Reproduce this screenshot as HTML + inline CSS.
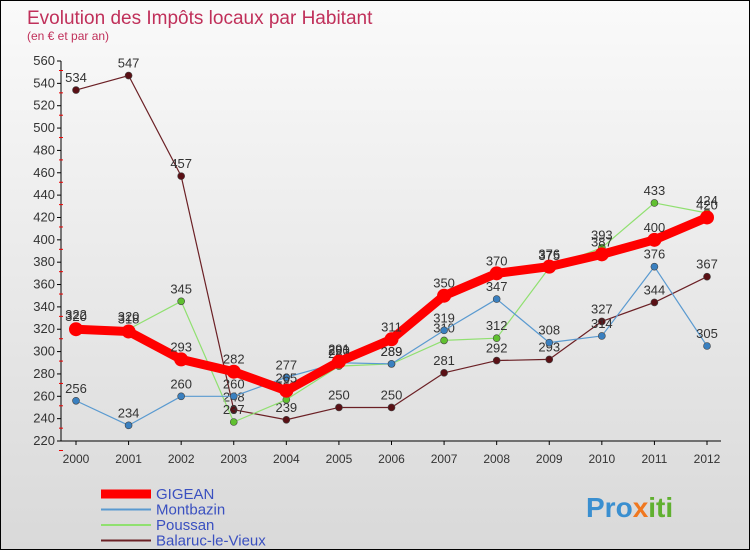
<!DOCTYPE html>
<html><head><meta charset="utf-8"><style>
body{margin:0;width:750px;height:550px;overflow:hidden;font-family:"Liberation Sans",sans-serif}
#wrap{position:relative;width:748px;height:548px;border:1px solid #000;background:linear-gradient(#fafafa,#d9d9d9)}
</style></head><body>
<div id="wrap">
<svg id="chart" width="748" height="548" style="font-family:'Liberation Sans',sans-serif">
<text x="26" y="23" font-size="19" fill="#c0305a">Evolution des Impôts locaux par Habitant</text>
<text x="26" y="39" font-size="12" fill="#c0305a">(en € et par an)</text>
<g id="axes"></g><g id="series"></g><g id="legend"></g>
<text x="585" y="516" font-size="28" font-weight="bold" fill="#3a8fd0">Pro<tspan fill="#f07820">x</tspan><tspan fill="#60b030">iti</tspan></text>
</svg></div>
<script>
const years=[2000,2001,2002,2003,2004,2005,2006,2007,2008,2009,2010,2011,2012];
const yTicks=[220,240,260,280,300,320,340,360,380,400,420,440,460,480,500,520,540,560];
const gigean=[320,318,293,282,265,291,311,350,370,376,387,400,420];
const montbazin=[256,234,260,260,277,290,289,319,347,308,314,376,305];
const poussan=[322,320,345,237,257,287,289,310,312,375,393,433,424];
const balaruc=[534,547,457,248,239,250,250,281,292,293,327,344,367];
const seriesNames=["GIGEAN","Montbazin","Poussan","Balaruc-le-Vieux"];
const NS="http://www.w3.org/2000/svg";
const xS=i=>75+i*(706-75)/(years.length-1);
const yS=v=>60+(560-v)*(440-60)/(560-220);
function mk(t,a,p){const e=document.createElementNS(NS,t);for(const k in a)e.setAttribute(k,a[k]);p.appendChild(e);return e;}
const ax=document.getElementById('axes');
const yAxis=mk('line',{x1:60,y1:60,x2:60,y2:440,stroke:'#000'},ax);


const xAxis=mk('line',{x1:60,y1:440,x2:720,y2:440,stroke:'#000'},ax);


yTicks.forEach(v=>{const y=yS(v);mk('line',{x1:56,y1:y,x2:60,y2:y,stroke:'#000'},ax);
 mk('line',{x1:58,y1:y+9.5,x2:62,y2:y+9.5,stroke:'#e00'},ax);
 const t=mk('text',{x:54,y:y+4,'font-size':13,'text-anchor':'end',fill:'#333'},ax);t.textContent=v;
 
 });
years.forEach((yr,i)=>{const x=xS(i);mk('line',{x1:x,y1:440,x2:x,y2:444,stroke:'#000'},ax);
 const t=mk('text',{x:x,y:462,'font-size':12,'text-anchor':'middle',fill:'#333'},ax);t.textContent=yr;
 
 });
const sg=document.getElementById('series');
const defs=[[balaruc,'#6b2025','#5a1015',1.2,3.5],[poussan,'#90e070','#60c030',1.2,3.5],[montbazin,'#5a9ad0','#3a80c0',1.2,3.5],[gigean,'#ff0000','#ff0000',9,7]];
defs.forEach((d,si)=>{const [vals,c,fc,w,r]=d;const g=mk('g',{},sg);
 
 
 mk('polyline',{points:vals.map((v,i)=>xS(i)+','+yS(v)).join(' '),fill:'none',stroke:c,'stroke-width':w,'stroke-linejoin':'round'},g);
 vals.forEach((v,i)=>{const p=mk('circle',{cx:xS(i),cy:yS(v),r:r,fill:fc,stroke:'#444','stroke-width':si==3?0:0.6},g);
  
  
  const t=mk('text',{x:xS(i),y:yS(v)-8,'font-size':13,'text-anchor':'middle',fill:'#333'},g);t.textContent=v;
  
  });});
const lg=document.getElementById('legend');
const lc=['#ff0000','#5a9ad0','#90e070','#6b2025'],lw=[9,2,2,2];
seriesNames.forEach((n,i)=>{const y=493+i*15.5;const g=mk('g',{},lg);
 
 
 mk('line',{x1:100,y1:y,x2:150,y2:y,stroke:lc[i],'stroke-width':lw[i]},g);
 const t=mk('text',{x:155,y:y+5,'font-size':15,fill:'#3a50c0'},g);t.textContent=n;});
</script>
</body></html>
